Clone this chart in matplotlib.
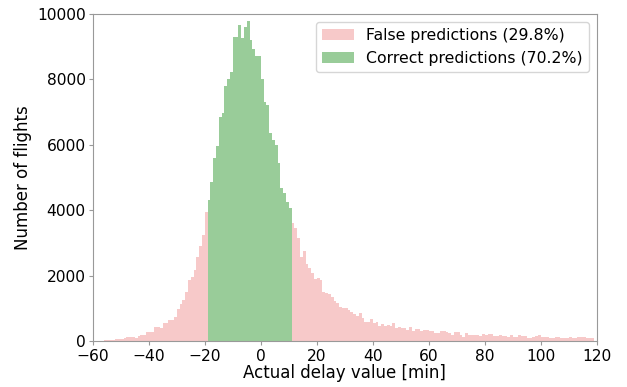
import numpy as np
import matplotlib
matplotlib.use('Agg')
import matplotlib.pyplot as plt

# flights per 1-minute bin of actual delay
# bins -60 .. -20 (outside the tolerance band -> false prediction)
left_tail = [5, 5, 10, 10, 15, 20, 30, 40, 50, 50,
             70, 80, 110, 130, 110, 100, 150, 185, 185, 285,
             260, 260, 440, 440, 390, 540, 540, 640, 650, 720,
             980, 1120, 1250, 1510, 1850, 1970, 2170, 2580, 2900, 3230,
             3955]
# bins -19 .. 10 (correct prediction)
correct = [4312, 4852, 5586, 5973, 6850, 6962, 7798, 8012, 8236, 9307,
           9307, 9650, 9256, 9600, 9790, 9205, 8919, 8715, 8715, 8012,
           7299, 7217, 6350, 6147, 5994, 5433, 4668, 4515, 4240, 4057]
# bins 11 .. 118 (false prediction)
right_tail = [3598, 3445, 3139, 2579, 2762, 2354, 2222, 2090, 1896, 1937,
              1865, 1509, 1478, 1437, 1356, 1223, 1172, 1030, 999, 999,
              948, 877, 816, 765, 846, 714, 571, 571, 673, 560,
              581, 459, 510, 459, 500, 459, 540, 408, 418, 387,
              387, 336, 418, 306, 357, 367, 316, 330, 330, 306,
              316, 255, 255, 296, 296, 265, 245, 183, 265, 265,
              183, 132, 234, 183, 173, 183, 190, 153, 204, 183,
              214, 214, 163, 163, 173, 163, 163, 132, 173, 132,
              132, 183, 153, 153, 102, 102, 112, 153, 183, 112,
              112, 112, 92, 92, 112, 112, 92, 92, 92, 112,
              82, 82, 112, 112, 112, 102, 102, 102]

false_label = 'False predictions (29.8%)'
correct_label = 'Correct predictions (70.2%)'

x_left = np.arange(-60, -60 + len(left_tail))
x_correct = np.arange(-19, -19 + len(correct))
x_right = np.arange(11, 11 + len(right_tail))

red = '#f7c9c9'
green = '#99cc99'

plt.rcParams['font.size'] = 12
fig = plt.figure(figsize=(6.27, 3.87), dpi=100)
ax = fig.add_axes([0.148, 0.119, 0.804, 0.845])

ax.bar(x_left, left_tail, width=1, align='edge', color=red, linewidth=0,
       label=false_label)
ax.bar(x_right, right_tail, width=1, align='edge', color=red, linewidth=0)
ax.bar(x_correct, correct, width=1, align='edge', color=green, linewidth=0,
       label=correct_label)

ax.set_xlim(-60, 120)
ax.set_ylim(0, 10000)
ax.set_xticks(np.arange(-60, 121, 20))
ax.set_yticks(np.arange(0, 10001, 2000))
ax.set_xlabel('Actual delay value [min]', labelpad=0)
ax.set_ylabel('Number of flights', labelpad=4)

for s in ax.spines.values():
    s.set_color('#999999')
ax.tick_params(colors='#999999', labelcolor='black', labelsize=11.2,
               length=3)
ax.tick_params(axis='x', pad=2.8)
ax.tick_params(axis='y', pad=2.0)

ax.legend(loc='upper right', fontsize=11.3, handlelength=2.0)

fig.savefig('out.png', dpi=100)
